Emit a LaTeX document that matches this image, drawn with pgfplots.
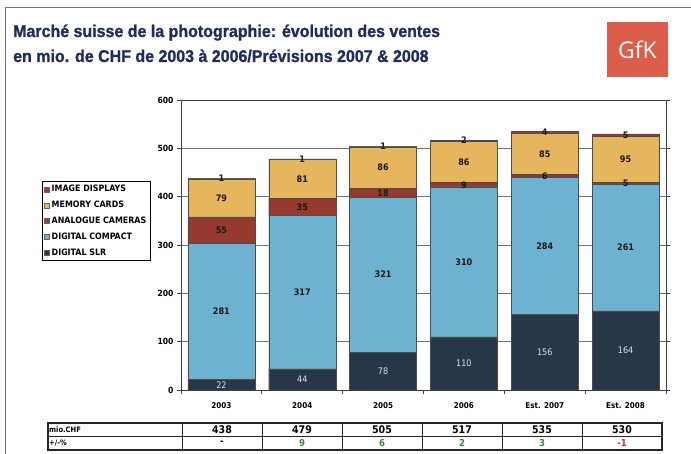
\documentclass[border=0pt]{standalone}
\usepackage{pgfplots}
\pgfplotsset{compat=1.18}
\usepackage{pgfplotstable}
\usepackage{graphicx}
\usepackage{fontspec}
\setmainfont{Liberation Sans}[BoldFont={Liberation Sans Bold}]
\newfontfamily\titlefont{Liberation Sans Bold}[FakeBold=1.2]
\newfontfamily\chartfont{DejaVu Sans Condensed}[BoldFont={DejaVu Sans Condensed Bold}]
\newfontfamily\logofont{Open Sans}
\definecolor{slr}{HTML}{283747}
\definecolor{compact}{HTML}{6DB3D1}
\definecolor{analog}{HTML}{963A2F}
\definecolor{memory}{HTML}{E6B65E}
\definecolor{imgdisp}{HTML}{B5303E}
\definecolor{titleblue}{HTML}{1E2C5E}
\definecolor{gfk}{HTML}{DB5E4B}
\definecolor{posgreen}{HTML}{2E8B3A}
\definecolor{negred}{HTML}{C8302C}

\pgfplotstableread{
x slr compact analog memory img
0 22 281 55 79 1
1 44 317 35 81 1
2 78 321 18 86 1
3 110 310 9 86 2
4 156 284 6 85 4
5 164 261 5 95 5
}\sales

\pgfplotstableread{
x y lab
0 11 22
1 22 44
2 39 78
3 55 110
4 78 156
5 82 164
}\slrlabels

\pgfplotstableread{
x y lab
0 162.5 281
1 202.5 317
2 238.5 321
3 265 310
4 298 284
5 294.5 261
0 330.5 55
1 378.5 35
2 408 18
3 424.5 9
4 443 6
5 427.5 5
0 397.5 79
1 436.5 81
2 460 86
3 472 86
4 488.5 85
5 477.5 95
0 437.5 1
1 477.5 1
2 503.5 1
3 516 2
4 533 4
5 527.5 5
}\darklabels

\begin{document}
\begin{tikzpicture}[x=1bp,y=1bp]
\fill[white] (0,0) rectangle (691,454);
\path[use as bounding box] (0,0) rectangle (691,454);
% frame
\draw[black!55, line width=1bp] (5,0) -- (5,446) -- (691,446);
% title
\node[anchor=base west, inner sep=0, text=titleblue, font=\titlefont\fontsize{17bp}{20bp}\selectfont] at (13,417) {\scalebox{0.94}[1]{Marché suisse de la photographie: évolution des ventes}};
\node[anchor=base west, inner sep=0, text=titleblue, font=\titlefont\fontsize{17bp}{20bp}\selectfont] at (13,392) {\scalebox{0.94}[1]{en mio. de CHF de 2003 à 2006/Prévisions 2007 \& 2008}};
% logo
\fill[gfk] (607,377) rectangle (668,432);
\node[text=white, font=\logofont\fontsize{23bp}{26bp}\selectfont, inner sep=0] at (637.5,404.5) {GfK};

\begin{axis}[
  at={(181bp,64bp)}, anchor=south west,
  scale only axis, width=485bp, height=290bp,
  xmin=-0.5, xmax=5.5, ymin=0, ymax=600,
  ybar stacked, bar width=0.83,
  xtick={-0.5,0.5,...,5.5},
  x tick label as interval,
  xticklabels={2003,2004,2005,2006,Est. 2007,Est. 2008},
  xtick pos=lower, ytick pos=both,
  ytick={0,100,...,600},
  /pgf/number format/assume math mode=true,
  ymajorgrids, grid style={black!55, line width=0.7bp},
  tick align=outside, major tick length=4bp,
  axis line style={black!75, line width=0.8bp},
  tick style={black!75, line width=0.7bp},
  ticklabel style={font=\chartfont\bfseries\fontsize{8.5bp}{9bp}\selectfont},
  xticklabel style={font=\chartfont\bfseries\fontsize{8bp}{9bp}\selectfont, yshift=-5bp},
  every axis plot/.append style={draw=black!70, line width=0.4bp},
  legend style={at={(-0.2866,0.7207)}, anchor=north west, draw=black, line width=0.9bp,
    font=\chartfont\bfseries\fontsize{8.8bp}{9bp}\selectfont,
    inner sep=2bp, row sep=3.8bp, cells={anchor=west}, fill=white},
  reverse legend,
  legend image code/.code={\draw[#1, draw=black!60, line width=0.3bp] (0bp,-2.5bp) rectangle (5bp,2.5bp);},
]
\addplot[fill=slr] table[x=x, y=slr]{\sales};
\addplot[fill=compact] table[x=x, y=compact]{\sales};
\addplot[fill=analog] table[x=x, y=analog]{\sales};
\addplot[fill=memory] table[x=x, y=memory]{\sales};
\addplot[fill=imgdisp] table[x=x, y=img]{\sales};
\legend{DIGITAL SLR, DIGITAL COMPACT, ANALOGUE CAMERAS, MEMORY CARDS, IMAGE DISPLAYS}
\end{axis}

\begin{axis}[
  at={(181bp,64bp)}, anchor=south west,
  scale only axis, width=485bp, height=290bp,
  xmin=-0.5, xmax=5.5, ymin=0, ymax=600,
  hide axis, clip=false,
  nodes near coords, point meta=explicit symbolic,
  every node near coord/.append style={anchor=center, inner sep=0pt},
]
\addplot[draw=none, mark=none, nodes near coords style={text=white!85!slr, font=\chartfont\fontsize{9bp}{10bp}\selectfont}] table[x=x, y=y, meta=lab]{\slrlabels};
\addplot[draw=none, mark=none, nodes near coords style={text=black!90, font=\chartfont\bfseries\fontsize{9bp}{10bp}\selectfont}] table[x=x, y=y, meta=lab]{\darklabels};
\end{axis}

% summary table
\draw[black!85, line width=1.2bp] (48,4) rectangle (662,31);
\draw[black!85, line width=0.8bp] (48,17.5) -- (662,17.5);
\foreach \xx in {182,262,342,422,502,582} {\draw[black!85, line width=0.9bp] (\xx,4) -- (\xx,31);}
\node[anchor=west, inner sep=0, font=\chartfont\bfseries\fontsize{7.5bp}{8bp}\selectfont] at (49,24.2) {mio.CHF};
\node[anchor=west, inner sep=0, font=\chartfont\bfseries\fontsize{7.5bp}{8bp}\selectfont] at (49,10.8) {+/-\%};
\foreach \v [count=\i from 0] in {438,479,505,517,535,530} {
  \node[inner sep=0, font=\chartfont\bfseries\fontsize{10.5bp}{11bp}\selectfont] at (222+80*\i,24.2) {\v};
}
\node[inner sep=0, font=\chartfont\bfseries\fontsize{9.5bp}{10bp}\selectfont] at (222,10.8) {-};
\foreach \v [count=\i from 1] in {9,6,2,3} {
  \node[inner sep=0, text=posgreen, font=\chartfont\bfseries\fontsize{9.5bp}{10bp}\selectfont] at (222+80*\i,10.8) {\v};
}
\node[inner sep=0, text=negred, font=\chartfont\bfseries\fontsize{9.5bp}{10bp}\selectfont] at (622,10.8) {-1};
\end{tikzpicture}
\end{document}
